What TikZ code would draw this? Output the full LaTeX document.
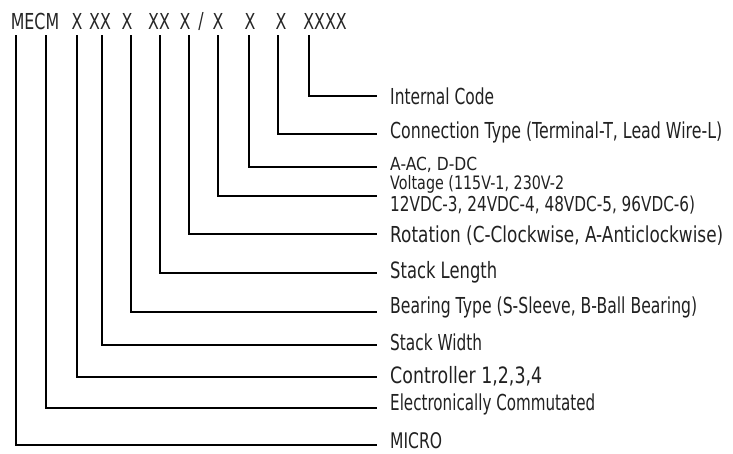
\documentclass[tikz,border=0pt]{standalone}
\usepackage{fontspec}
\setmainfont{DejaVu Sans}
\newfontfamily\hdrfont[FakeStretch=0.72]{DejaVu Sans}
\newcommand\fitw[2]{\setbox0=\hbox{#2}\pgfmathsetmacro\myfx{#1/\the\wd0}\scalebox{\myfx}[1]{\box0}}
\begin{document}
\begin{tikzpicture}[x=1pt,y=-1pt,
  lbl/.style={anchor=west,inner sep=0pt,text=black!87,font=\fontsize{#1}{#1}\selectfont},
  blbl/.style={lbl=#1,anchor=base west},
  hdr/.style={inner sep=0pt,text=black!85,font=\hdrfont\fontsize{22}{22}\selectfont},
  wire/.style={line width=2pt,black,line join=miter}]
\useasboundingbox (0,0) rectangle (733,453);
% header tokens
\node[hdr] (hM) at (35,21) {MECM};
\node[hdr] (h1) at (77,21) {X};
\node[hdr] (h2) at (100,21) {XX};
\node[hdr] (h3) at (127,21) {X};
\node[hdr] (h4) at (159,21) {XX};
\node[hdr] (h5) at (185,21) {X};
\node[hdr] (hs) at (201,21) {/};
\node[hdr] (h6) at (218,21) {X};
\node[hdr] (h7) at (250,21) {X};
\node[hdr] (h8) at (281,21) {X};
\node[hdr] (h9) at (325,21) {XXXX};
% line tops
\coordinate (t1) at (16,35);
\coordinate (t2) at (46,35);
\coordinate (t3) at (77,35);
\coordinate (t4) at (102,35);
\coordinate (t5) at (131,35);
\coordinate (t6) at (160,35);
\coordinate (t7) at (189,35);
\coordinate (t8) at (218,35);
\coordinate (t9) at (249,35);
\coordinate (t10) at (278,35);
\coordinate (t11) at (309,35);
% labels
\node[lbl=22] (l11) at (390,96) {\fitw{104}{Internal Code}};
\node[lbl=22] (l10) at (390,132) {\fitw{332}{Connection Type (Terminal-T, Lead Wire-L)}};
\node[blbl=18] (l9) at (390,170.5) {\fitw{87}{A-AC, D-DC}};
\node[blbl=18.5] (l8) at (390,189.5) {\fitw{174}{Voltage (115V-1, 230V-2}};
\node[blbl=20.5] (l8b) at (390,211.5) {\fitw{305}{12VDC-3, 24VDC-4, 48VDC-5, 96VDC-6)}};
\node[lbl=22] (l7) at (390,236) {\fitw{333}{Rotation (C-Clockwise, A-Anticlockwise)}};
\node[lbl=22.5] (l6) at (390,272) {\fitw{107}{Stack Length}};
\node[lbl=22] (l5) at (390,307) {\fitw{307}{Bearing Type (S-Sleeve, B-Ball Bearing)}};
\node[lbl=22] (l4) at (390,342) {\fitw{92}{Stack Width}};
\node[lbl=22.5] (l3) at (390,376) {\fitw{152}{Controller 1,2,3,4}};
\node[lbl=22] (l2) at (390,404) {\fitw{205}{Electronically Commutated}};
\node[lbl=21.5] (l1) at (390,441) {\fitw{52}{MICRO}};
% wires
\foreach \i/\y in {1/445,2/408,3/377,4/345,5/312,6/273,7/234,8/196,9/167,10/134,11/96}{
  \coordinate (e\i) at (377,\y);
  \draw[wire] (t\i) |- (e\i);
}
\end{tikzpicture}
\end{document}
